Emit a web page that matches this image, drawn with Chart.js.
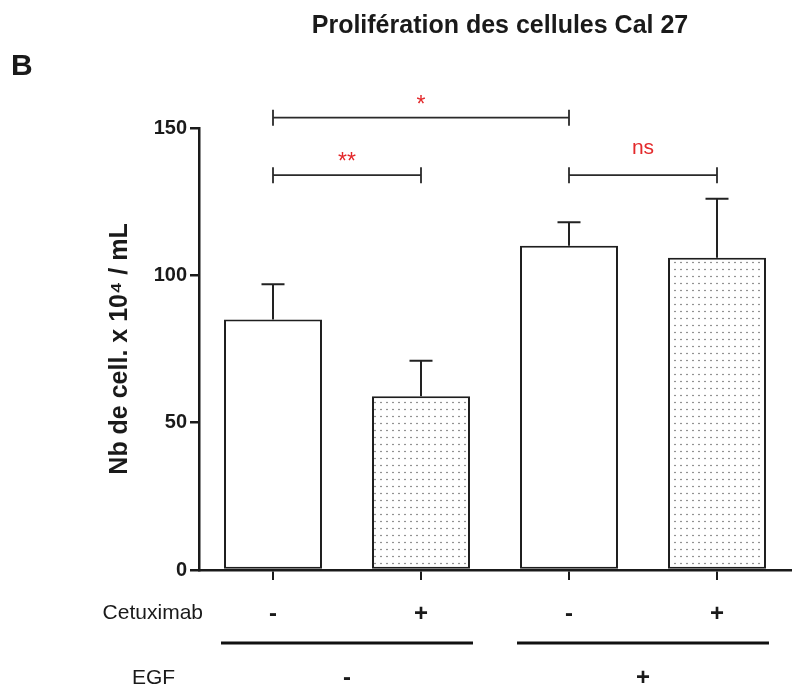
<!DOCTYPE html>
<html><head><meta charset="utf-8">
<script src="https://cdn.jsdelivr.net/npm/chart.js@4.4.1/dist/chart.umd.min.js"></script>
<style>html,body{margin:0;padding:0;background:#fff;overflow:hidden}#wrap{width:798px;height:687px;position:relative}</style>
</head><body><div id="wrap"><canvas id="c" width="798" height="687"></canvas></div>
<script>
// ---- data ----
const categories = ['EGF- Cetuximab-', 'EGF- Cetuximab+', 'EGF+ Cetuximab-', 'EGF+ Cetuximab+'];
const cetuximabMarks = ['-', '+', '-', '+'];
const egfMarks = ['-', '+'];
const egfGroupStart = [0, 2];
const egfGroupEnd = [1, 3];
const meanValues = [85, 59, 110, 106];
const errorTops = [97, 71, 118, 126];
const yTicks = [0, 50, 100, 150];
const bracketFrom = [0, 0, 2];
const bracketTo = [2, 1, 3];
const bracketLevel = [153.5, 134, 134];
const bracketLabels = ['*', '**', 'ns'];
const chartTitle = 'Prolifération des cellules Cal 27';
const panelLetter = 'B';
const yTitle = 'Nb de cell. x 10\u2074 / mL';
const rowTitles = ['Cetuximab', 'EGF'];

const FONT = "'Liberation Sans', Arial, Helvetica, sans-serif";
const INK = '#1a1a1a';
const RED = '#e3292b';

function dotPattern() {
  const c = document.createElement('canvas');
  c.width = 6; c.height = 7;
  const g = c.getContext('2d');
  g.fillStyle = '#ffffff'; g.fillRect(0, 0, 6, 7);
  g.fillStyle = '#6a6a6a';
  g.beginPath(); g.arc(3, 3.5, 0.8, 0, Math.PI * 2); g.fill();
  return g.createPattern(c, 'repeat');
}
const pat = dotPattern();
const fills = cetuximabMarks.map(m => m === '+' ? pat : '#ffffff');

const decor = {
  id: 'decor',
  afterDatasetsDraw(chart) {
    const ctx = chart.ctx;
    const meta = chart.getDatasetMeta(0);
    const y = chart.scales.y;
    ctx.save();
    ctx.strokeStyle = '#222';
    ctx.lineWidth = 2;
    meta.data.forEach((bar, i) => {
      const yt = y.getPixelForValue(errorTops[i]);
      ctx.beginPath();
      ctx.moveTo(bar.x, bar.y); ctx.lineTo(bar.x, yt);
      ctx.moveTo(bar.x - 11.5, yt); ctx.lineTo(bar.x + 11.5, yt);
      ctx.stroke();
    });
    ctx.restore();
  },
  afterDraw(chart) {
    const ctx = chart.ctx;
    const x = chart.scales.x, y = chart.scales.y;
    const area = chart.chartArea;
    const meta = chart.getDatasetMeta(0);
    ctx.save();
    // title
    ctx.fillStyle = INK;
    ctx.textAlign = 'center'; ctx.textBaseline = 'alphabetic';
    ctx.font = 'bold 25px ' + FONT;
    ctx.fillText(chartTitle, 500, 33);
    ctx.textAlign = 'left';
    ctx.font = 'bold 30px ' + FONT;
    ctx.fillText(panelLetter, 11, 75);
    // brackets
    ctx.strokeStyle = '#2a2a2a'; ctx.lineWidth = 1.8;
    bracketLabels.forEach((lab, i) => {
      const x1 = x.getPixelForValue(bracketFrom[i]);
      const x2 = x.getPixelForValue(bracketTo[i]);
      const yy = y.getPixelForValue(bracketLevel[i]);
      ctx.beginPath();
      ctx.moveTo(x1, yy); ctx.lineTo(x2, yy);
      ctx.moveTo(x1, yy - 8); ctx.lineTo(x1, yy + 8);
      ctx.moveTo(x2, yy - 8); ctx.lineTo(x2, yy + 8);
      ctx.stroke();
      ctx.fillStyle = RED;
      ctx.textAlign = 'center'; ctx.textBaseline = 'middle';
      const isStar = lab.indexOf('*') >= 0;
      ctx.font = (isStar ? '23px ' : '21px ') + FONT;
      ctx.fillText(lab, (x1 + x2) / 2, yy - (isStar ? 12 : 27));
    });
    // row titles
    ctx.fillStyle = INK;
    ctx.font = '21px ' + FONT;
    ctx.textBaseline = 'middle';
    ctx.textAlign = 'right';
    ctx.fillText(rowTitles[0], area.left + 4, area.bottom + 43);
    ctx.textAlign = 'left';
    ctx.fillText(rowTitles[1], area.left - 67, area.bottom + 108);
    // group lines + EGF marks
    ctx.strokeStyle = '#111'; ctx.lineWidth = 3;
    egfMarks.forEach((m, g) => {
      const b0 = meta.data[egfGroupStart[g]], b1 = meta.data[egfGroupEnd[g]];
      const l = b0.x - b0.width / 2 - 3, r = b1.x + b1.width / 2 + 3;
      const ly = area.bottom + 73;
      ctx.beginPath(); ctx.moveTo(l, ly); ctx.lineTo(r, ly); ctx.stroke();
      ctx.textAlign = 'center';
      ctx.font = 'bold 24px ' + FONT;
      ctx.fillText(m, (l + r) / 2, area.bottom + 108);
    });
    ctx.restore();
  }
};

new Chart(document.getElementById('c'), {
  type: 'bar',
  data: {
    labels: categories,
    datasets: [{
      data: meanValues,
      backgroundColor: fills,
      borderColor: '#1e1e1e',
      borderWidth: 2,
      borderSkipped: false,
      barPercentage: 0.662,
      categoryPercentage: 1
    }]
  },
  options: {
    responsive: false,
    animation: false,
    devicePixelRatio: 1,
    layout: { padding: { left: 105, top: 128, right: 7, bottom: 0 } },
    plugins: { legend: { display: false }, tooltip: { enabled: false }, title: { display: false } },
    scales: {
      x: {
        offset: true,
        grid: { offset: false, drawOnChartArea: false, drawTicks: true, tickLength: 10, color: INK, lineWidth: 2 },
        border: { display: true, color: INK, width: 2.5 },
        ticks: {
          padding: 20,
          color: INK,
          maxRotation: 0,
          font: { family: FONT, size: 24, weight: 'bold' },
          callback: (v, i) => cetuximabMarks[i]
        },
        afterFit: s => { s.height = 117; }
      },
      y: {
        min: 0, max: 150,
        afterBuildTicks: s => { s.ticks = yTicks.map(v => ({ value: v })); },
        grid: { drawOnChartArea: false, drawTicks: true, tickLength: 9, color: INK, lineWidth: 2.5 },
        border: { display: true, color: INK, width: 2.5 },
        ticks: { padding: 3, color: INK, font: { family: FONT, size: 20, weight: 'bold' } },
        title: { display: true, text: yTitle, color: INK, padding: 0, font: { family: FONT, size: 25, weight: 'bold' } },
        afterFit: s => { s.width = 94; }
      }
    }
  },
  plugins: [decor]
});
</script></body></html>
